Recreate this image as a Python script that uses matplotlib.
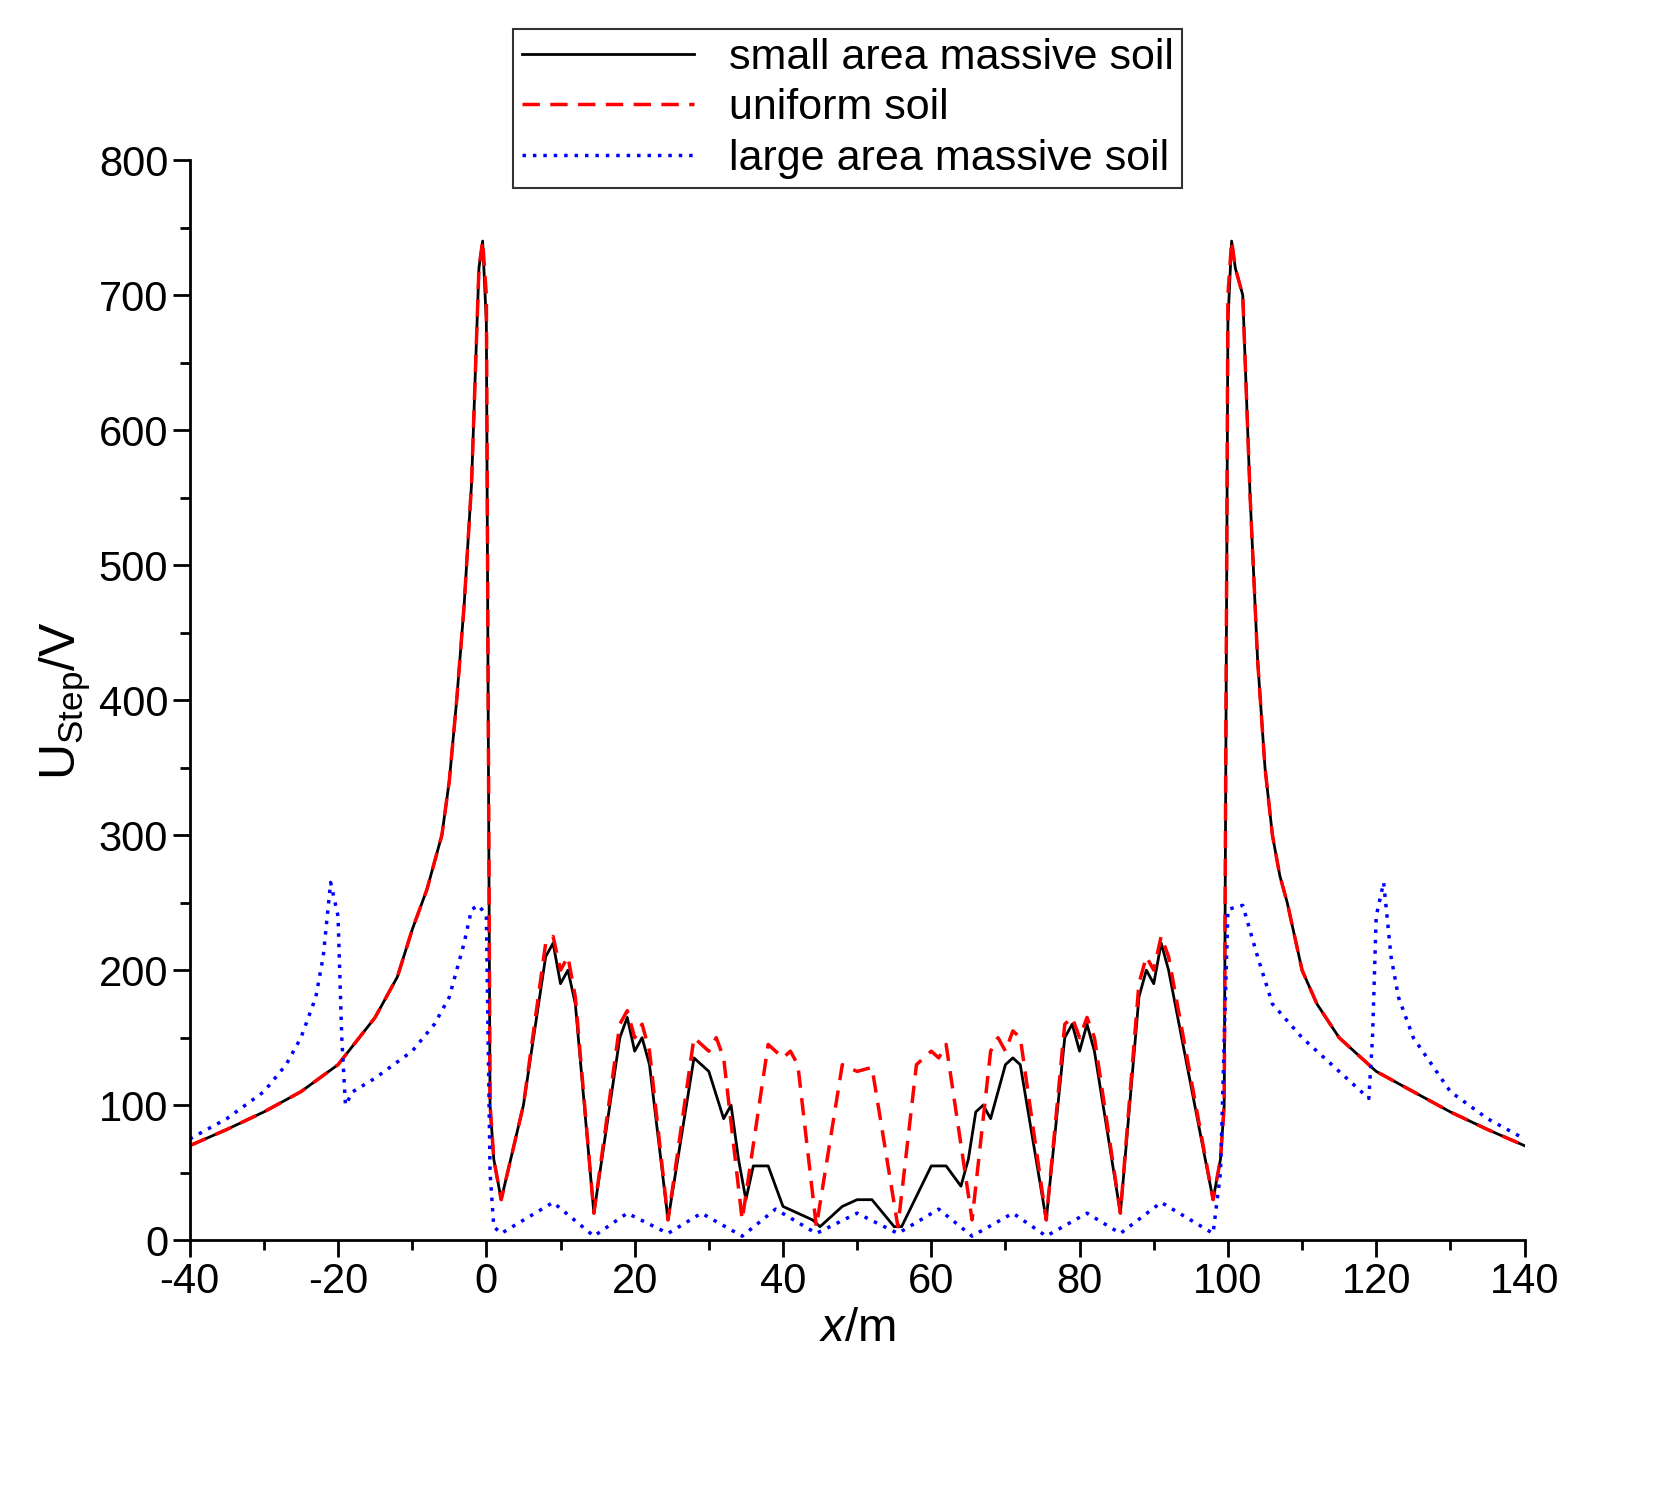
import matplotlib
matplotlib.use("Agg")
import matplotlib.pyplot as plt
from matplotlib.ticker import MultipleLocator

plt.rcParams['font.family'] = ['Liberation Sans', 'DejaVu Sans']
plt.rcParams['axes.unicode_minus'] = False
plt.rcParams['mathtext.fontset'] = 'custom'
plt.rcParams['mathtext.rm'] = 'Liberation Sans'
plt.rcParams['mathtext.it'] = 'Liberation Sans:italic'

red_x = [-40,-35,-30,-25,-20,-15,-12,-10,-8,-6,-5,-4,-3,-2,-1,-0.5,0,0.5,1,2,5,8,9,10,11,12,14.5,18,19,20,21,22,24.5,28,29,30,31,32,34.5,38,39,40,41,42,44.5,48,50,52,55.5,58,60,61,62,65.5,68,69,70,71,72,75.5,78,79,80,81,82,85.5,88,89,90,91,92,98,99,99.5,100,100.5,101,102,103,104,105,106,107,108,110,112,115,120,125,130,135,140]
red_y = [70,82,95,110,130,165,195,230,260,300,340,400,470,560,720,740,700,100,60,30,100,220,225,200,210,180,20,160,170,150,160,140,15,150,145,140,150,135,15,145,140,135,140,130,10,130,125,128,10,130,140,135,145,15,140,150,140,155,150,15,160,165,150,165,150,20,190,210,200,225,210,30,60,100,700,740,720,700,550,430,350,300,270,250,200,175,150,125,110,95,82,70]
blk_x = [-40,-35,-30,-25,-20,-15,-12,-10,-8,-6,-5,-4,-3,-2,-1,-0.5,0,0.5,1,2,5,8,9,10,11,12,14.5,18,19,20,21,22,24.5,28,29,30,32,33,34,35,36,38,40,44,45,48,50,52,55,56,60,62,64,65,66,67,68,70,71,72,75.5,78,79,80,81,82,85.5,88,89,90,91,92,98,99,99.5,100,100.5,101,102,103,104,105,106,107,108,110,112,115,120,125,130,135,140]
blk_y = [70,82,95,110,130,165,195,230,260,300,340,400,470,560,720,740,680,100,60,30,100,210,220,190,200,175,20,150,165,140,150,130,15,135,130,125,90,100,60,30,55,55,25,15,10,25,30,30,10,10,55,55,40,60,95,100,90,130,135,130,15,150,160,140,160,140,20,180,200,190,220,200,30,60,100,680,740,720,700,550,430,350,300,270,250,200,175,150,125,110,95,82,70]
blu_x = [-40,-35,-30,-27,-25,-23,-22,-21,-20,-19.5,-19,-18,-15,-10,-7,-5,-3,-2,-1,0,0.5,1,2,9,14.5,19,24.5,29,34.5,39,44.5,50,55.5,61,65.5,71,75.5,81,85.5,91,98,99,100,102,104,106,110,115,119,119.5,120,121,122,123,125,130,135,140]
blu_y = [75,90,110,130,150,180,210,265,240,150,100,110,120,140,160,180,220,245,248,240,50,10,5,28,3,20,5,20,3,23,5,20,5,23,3,20,3,20,5,28,5,50,245,248,210,175,150,125,105,150,240,265,210,180,150,110,90,75]

fig = plt.figure(figsize=(16.79,14.96), dpi=100)
ax = fig.add_axes([0.113,0.171,0.795,0.722])
ax.plot(blk_x, blk_y, color='black', lw=2, label='small area massive soil')
ax.plot(red_x, red_y, color='red', lw=2.5, ls=(0,(5,3)), label='uniform soil')
ax.plot(blu_x, blu_y, color='blue', lw=2.5, ls=(0,(1,2)), label='large area massive soil')
ax.set_xlim(-40,140); ax.set_ylim(0,800)
ax.xaxis.set_major_locator(MultipleLocator(20)); ax.xaxis.set_minor_locator(MultipleLocator(10))
ax.yaxis.set_major_locator(MultipleLocator(100)); ax.yaxis.set_minor_locator(MultipleLocator(50))
for s in ['top','right']: ax.spines[s].set_visible(False)
for s in ['left','bottom']: ax.spines[s].set_linewidth(2)
ax.tick_params(which='major', direction='out', length=12, width=2, labelsize=30)
ax.tick_params(which='minor', direction='out', length=7, width=2)
ax.set_xlabel('$x$/m', fontsize=34)
ax.set_ylabel('U$_{\\mathregular{Step}}$/V', fontsize=36)
leg = fig.legend(loc='upper left', bbox_to_anchor=(0.293,0.995), fontsize=31, frameon=True,
                 fancybox=False, edgecolor='black', handlelength=4, borderpad=0.2, labelspacing=0.25)
leg.get_frame().set_linewidth(1.5)
fig.savefig('out.png', dpi=100)
